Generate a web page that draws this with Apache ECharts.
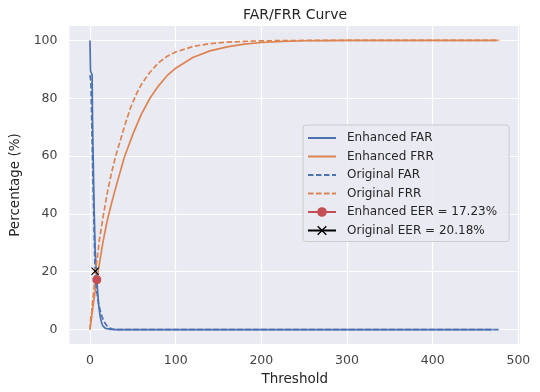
<!DOCTYPE html>
<html>
<head>
<meta charset="utf-8">
<script src="https://cdn.jsdelivr.net/npm/echarts@6/dist/echarts.min.js"></script>
<style>html,body{margin:0;padding:0;background:#fff;}#c{width:540px;height:392px;}</style>
</head>
<body>
<div id="c"></div>
<script>
// ---- data ----
var enhFarT = [0, 0.5, 0.6, 2.5, 3, 4, 5, 6, 7, 8, 9, 10, 11, 12, 13, 14, 15, 16, 18, 20, 25, 30, 100, 200, 300, 400, 470];
var enhFarV = [100, 100, 89.5, 88, 72, 55, 40, 28, 22, 17.23, 13, 9, 6.5, 4.5, 3, 2, 1.3, 0.8, 0.4, 0.2, 0.05, 0, 0, 0, 0, 0, 0];

var enhFrrT = [0, 2, 4, 6, 8, 10, 15, 20, 25, 30, 40, 50, 60, 70, 80, 90, 100, 120, 140, 160, 180, 200, 225, 250, 275, 300, 350, 400, 450, 476];
var enhFrrV = [0, 4.5, 9, 13.3, 17.23, 21, 30, 37.5, 43.5, 49, 59.5, 67.5, 74.5, 80, 84.3, 87.8, 90.4, 94.1, 96.4, 97.8, 98.7, 99.3, 99.7, 99.9, 99.95, 100, 100, 100, 100, 100];

var origFarT = [0, 1, 2, 3, 4, 5, 6, 7, 8, 10, 12, 14, 16, 18, 20, 23, 27, 30, 100, 200, 300, 400, 478];
var origFarV = [88, 86, 72, 58, 45, 32, 20.18, 15.5, 13, 9, 6.5, 4.5, 3, 2, 1.2, 0.5, 0.1, 0, 0, 0, 0, 0, 0];

var origFrrT = [0, 1, 2, 3, 4, 5, 6, 8, 11, 15, 20, 25, 30, 40, 47, 55, 60, 70, 80, 90, 100, 120, 140, 160, 180, 200, 225, 250, 300, 400, 478];
var origFrrV = [0, 4.5, 6, 9.5, 12, 15.5, 20.18, 23.5, 31, 38.5, 47, 54, 60, 70, 76.5, 82, 84.8, 89, 92.3, 94.5, 96, 97.9, 98.9, 99.4, 99.7, 99.85, 99.95, 100, 100, 100, 100];

var enhEER = [8, 17.23];
var origEER = [6, 20.18];

var xTicks = [0, 100, 200, 300, 400, 500];
var yTicks = [0, 20, 40, 60, 80, 100];

var seriesNames = ['Enhanced FAR', 'Enhanced FRR', 'Original FAR', 'Original FRR',
                   'Enhanced EER = 17.23%', 'Original EER = 20.18%'];

function pairs(t, v) { return t.map(function (x, i) { return [x, v[i]]; }); }

var BLUE = '#4C72B0', ORANGE = '#DD8452', RED = '#C44E52';
var TXT = '#262626';
var FONT = 'DejaVu Sans';
var crossPath = 'path://M0,1L1,0L5,4L9,0L10,1L6,5L10,9L9,10L5,6L1,10L0,9L4,5Z';

function lineSeries(name, data, color, dashed) {
  return {
    name: name, type: 'line', data: data, symbol: 'none', showSymbol: false,
    lineStyle: { color: color, width: 1.7, type: dashed ? [5.5, 2.5] : 'solid' },
    itemStyle: { color: color }, animation: false, z: 2
  };
}

var legendData = seriesNames.map(function (n, i) {
  return i < 4 ? { name: n, itemStyle: { opacity: 0 } } : { name: n };
});

var chart = echarts.init(document.getElementById('c'), null, { renderer: 'canvas' });
chart.setOption({
  animation: false,
  backgroundColor: '#ffffff',
  textStyle: { fontFamily: FONT },
  title: {
    text: 'FAR/FRR Curve', left: 295, top: 7, textAlign: 'center', padding: 0,
    textStyle: { fontFamily: FONT, fontSize: 14, lineHeight: 16, fontWeight: 'normal', color: TXT }
  },
  grid: { left: 69.5, right: 20, top: 26, bottom: 48, show: true, backgroundColor: '#EAEAF2', borderWidth: 0 },
  xAxis: {
    type: 'value', min: -23.9, max: 501.9,
    name: 'Threshold', nameLocation: 'middle', nameGap: 28,
    nameTextStyle: { fontFamily: FONT, fontSize: 13.5, color: TXT },
    axisLine: { show: false }, axisTick: { show: false, customValues: xTicks },
    axisLabel: { customValues: xTicks, color: '#444', fontSize: 12.5, fontFamily: FONT, margin: 10 },
    splitLine: { show: true, lineStyle: { color: '#ffffff', width: 1.2 } }
  },
  yAxis: {
    type: 'value', min: -5, max: 105,
    name: 'Percentage (%)', nameLocation: 'middle', nameGap: 36,
    nameTextStyle: { fontFamily: FONT, fontSize: 13.5, color: TXT },
    axisLine: { show: false }, axisTick: { show: false, customValues: yTicks },
    axisLabel: { customValues: yTicks, color: '#444', fontSize: 12.5, fontFamily: FONT, margin: 12, padding: [5, 0, 0, 0] },
    splitLine: { show: true, lineStyle: { color: '#ffffff', width: 1.2 } }
  },
  legend: {
    orient: 'vertical', left: 303, top: 125,
    data: legendData,
    backgroundColor: 'rgba(234,234,242,0.85)', borderColor: '#cccccc', borderWidth: 1, borderRadius: 3,
    padding: [7, 12, 5, 4], itemWidth: 28, itemHeight: 12, itemGap: 6.5,
    textStyle: { fontFamily: FONT, fontSize: 12, color: TXT, padding: [0, 0, 0, 6] },
    selectedMode: false
  },
  series: [
    lineSeries(seriesNames[0], pairs(enhFarT, enhFarV), BLUE, false),
    lineSeries(seriesNames[1], pairs(enhFrrT, enhFrrV), ORANGE, false),
    lineSeries(seriesNames[2], pairs(origFarT, origFarV), BLUE, true),
    lineSeries(seriesNames[3], pairs(origFrrT, origFrrV), ORANGE, true),
    {
      name: seriesNames[4], type: 'line', data: [enhEER], symbol: 'circle', symbolSize: 9,
      itemStyle: { color: RED }, lineStyle: { color: RED, width: 1.7 }, z: 5, animation: false
    },
    {
      name: seriesNames[5], type: 'line', data: [origEER], symbol: crossPath, symbolSize: 8,
      itemStyle: { color: '#000000' }, lineStyle: { color: '#000000', width: 1.7 }, z: 6, animation: false
    }
  ]
});
</script>
</body>
</html>
